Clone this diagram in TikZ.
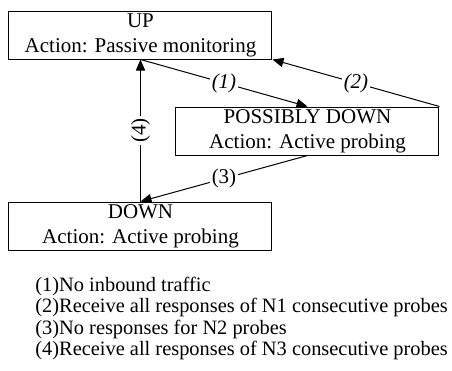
\documentclass[tikz,border=0pt]{standalone}
\usepackage{fontspec}
\setmainfont{Liberation Serif}
\usetikzlibrary{arrows.meta}
\tikzset{
  state/.style={draw, line width=0.5pt, align=center, minimum width=131.5pt, minimum height=24pt, inner sep=0pt, font=\fontsize{10.5}{12.5}\selectfont},
  trans/.style={line width=0.5pt, -{Triangle[length=5.5pt,width=4.6pt]}},
  lab/.style={fill=white, inner sep=1pt, font=\fontsize{10.5}{12.5}\selectfont}
}
\begin{document}
\begin{tikzpicture}[x=0.5pt,y=-0.5pt]
\useasboundingbox (0,0) rectangle (452,371);
\node [state] (up) at (140.5,35) {UP\\Action: Passive monitoring};
\node [state] (pd) at (307.5,131) {POSSIBLY DOWN\\Action: Active probing};
\node [state] (down) at (140.5,226) {DOWN\\Action: Active probing};
\draw [trans] (up.south) -- (pd.north) node [lab,midway] {\itshape (1)};
\draw [trans] (pd.north east) -- (up.south east) node [lab,midway] {\itshape (2)};
\draw [trans] (pd.south) -- (down.north) node [lab,midway] {(3)};
\draw [trans] (down.north) -- (up.south) node [lab,midway,rotate=90] {(4)};
\node [anchor=north west, inner sep=0pt, align=left, font=\fontsize{10.2}{10.6}\selectfont] (legend) at (35,277) {(1)No inbound traffic\\(2)Receive all responses of N1 consecutive probes\\(3)No responses for N2 probes\\(4)Receive all responses of N3 consecutive probes};
\end{tikzpicture}
\end{document}
